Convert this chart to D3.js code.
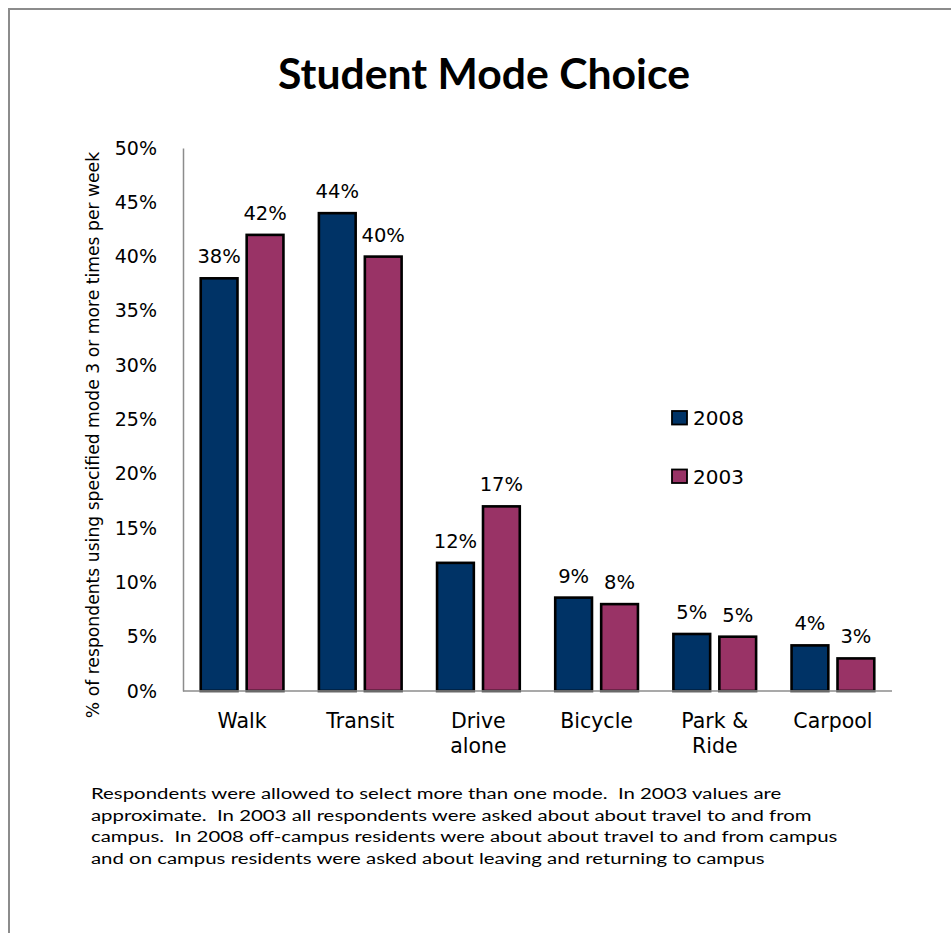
<!DOCTYPE html>
<html>
<head>
<meta charset="utf-8">
<script src="https://cdn.jsdelivr.net/npm/d3@7"></script>
<style>
  html, body { margin: 0; padding: 0; background: #fff; }
  svg { display: block; }
  text { white-space: pre; }
</style>
</head>
<body>
<svg id="chart" width="951" height="933"></svg>
<script>
const categories = [["Walk"], ["Transit"], ["Drive", "alone"], ["Bicycle"], ["Park &", "Ride"], ["Carpool"]];
const seriesNames = ["2008", "2003"];
const values2008 = [38, 44, 11.8, 8.6, 5.25, 4.2];
const values2003 = [42, 40, 17, 8, 5, 3];
const labels2008 = ["38%", "44%", "12%", "9%", "5%", "4%"];
const labels2003 = ["42%", "40%", "17%", "8%", "5%", "3%"];
const yTicks = [0, 5, 10, 15, 20, 25, 30, 35, 40, 45, 50];
const colors = ["#003366", "#993366"];
const title = "Student Mode Choice";
const yTitle = "% of respondents using specified mode 3 or more times per week";
const footnote = [
  "Respondents were allowed to select more than one mode.  In 2003 values are",
  "approximate.  In 2003 all respondents were asked about about travel to and from",
  "campus.  In 2008 off-campus residents were about about travel to and from campus",
  "and on campus residents were asked about leaving and returning to campus"
];

(function () {
const svg = d3.select("#chart");
const labelFont = "'DejaVu Sans', Verdana, sans-serif";
const noteFont = "Lato, 'Open Sans', sans-serif";

// outer border
svg.append("rect").attr("x", 9).attr("y", 9).attr("width", 960).attr("height", 960)
  .attr("fill", "none").attr("stroke", "#8c8c8c").attr("stroke-width", 2);

const pLeft = 183, pRight = 892, pTop = 148, pBottom = 691;
const y = d3.scaleLinear().domain([0, 50]).range([pBottom, pTop]);
const x = d3.scaleBand().domain(d3.range(categories.length)).range([pLeft, pRight])
  .paddingInner(0.3).paddingOuter(0.15);
const xs = d3.scaleBand().domain(seriesNames).range([0, x.bandwidth()]).paddingInner(0.2);

// title
const t = svg.append("text").attr("x", 484).attr("y", 89).attr("text-anchor", "middle")
  .attr("font-family", noteFont).attr("font-weight", "bold").attr("font-size", 32)
  .attr("fill", "#000").text(title);
{
  const w = t.node().getComputedTextLength();
  t.attr("font-size", 32 * 412 / w);
}

// y axis
const yAxis = svg.append("g").attr("transform", `translate(${pLeft},0)`)
  .call(d3.axisLeft(y).tickValues(yTicks).tickFormat(d => d + "%").tickSize(0).tickPadding(26));
yAxis.select(".domain").attr("stroke", "#8c8c8c").attr("stroke-width", 1.5);
yAxis.selectAll("text").attr("font-family", labelFont).attr("font-size", 19).attr("fill", "#000");

// y title
svg.append("text").attr("transform", "translate(99,435) rotate(-90)")
  .attr("text-anchor", "middle").attr("font-family", labelFont).attr("font-size", 17.2)
  .attr("fill", "#000").text(yTitle);

// bars
const data = categories.map((c, i) => ({
  i, vals: [
    { s: seriesNames[0], v: values2008[i], l: labels2008[i], c: colors[0] },
    { s: seriesNames[1], v: values2003[i], l: labels2003[i], c: colors[1] }
  ]
}));
const groups = svg.append("g").selectAll("g").data(data).join("g")
  .attr("transform", d => `translate(${x(d.i)},0)`);
groups.selectAll("rect").data(d => d.vals).join("rect")
  .attr("x", d => xs(d.s)).attr("width", xs.bandwidth())
  .attr("y", d => y(d.v)).attr("height", d => pBottom - y(d.v))
  .attr("fill", d => d.c).attr("stroke", "#000").attr("stroke-width", 2.6);
groups.selectAll("text.val").data(d => d.vals).join("text").attr("class", "val")
  .attr("x", d => xs(d.s) + xs.bandwidth() / 2).attr("y", d => y(d.v) - 15)
  .attr("text-anchor", "middle").attr("font-family", labelFont).attr("font-size", 19.5)
  .attr("fill", "#000").text(d => d.l);

// x axis line
svg.append("line").attr("x1", pLeft).attr("x2", pRight).attr("y1", pBottom).attr("y2", pBottom)
  .attr("stroke", "#8c8c8c").attr("stroke-width", 1.5);

// x labels
const xl = svg.append("g").selectAll("text").data(categories).join("text")
  .attr("x", (d, i) => x(i) + x.bandwidth() / 2).attr("y", 727.5)
  .attr("text-anchor", "middle").attr("font-family", labelFont).attr("font-size", 20.5).attr("fill", "#000");
xl.selectAll("tspan").data(d => d).join("tspan")
  .attr("x", function () { return this.parentNode.getAttribute("x"); })
  .attr("dy", (d, j) => j === 0 ? 0 : 25).text(d => d);

// legend
const lg = svg.append("g").selectAll("g").data(seriesNames).join("g")
  .attr("transform", (d, i) => `translate(672,${411 + i * 58.5})`);
lg.append("rect").attr("width", 15).attr("height", 13.5)
  .attr("fill", (d, i) => colors[i]).attr("stroke", "#000").attr("stroke-width", 1.8);
lg.append("text").attr("x", 21).attr("y", 7).attr("dy", "0.35em")
  .attr("font-family", labelFont).attr("font-size", 20).attr("fill", "#000").text(d => d);

// footnote (Calibri-like: compress horizontally to match width)
const fnSize = 15.5;
const fn = svg.append("g").selectAll("text").data(footnote).join("text")
  .attr("x", 0).attr("y", 0)
  .attr("font-family", noteFont).attr("font-size", fnSize).attr("fill", "#000").text(d => d);
const w3 = fn.nodes()[2].getComputedTextLength();
const sx = 747 / w3;
fn.attr("transform", (d, i) => `translate(91,${799 + i * 21.5}) scale(${sx},1)`);
})();
</script>
</body>
</html>
